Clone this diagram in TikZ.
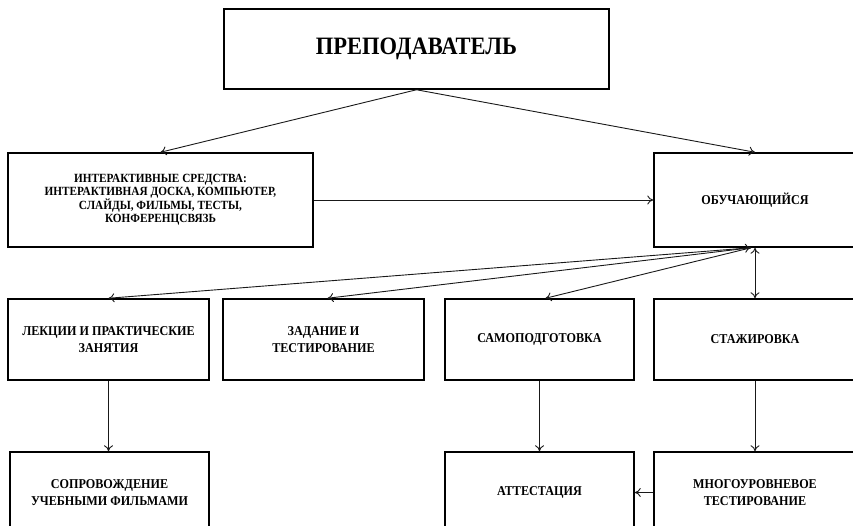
\documentclass[tikz,border=0pt]{standalone}
\usepackage{fontspec}
\setmainfont{Liberation Serif}[FakeStretch=0.9]
\usetikzlibrary{arrows.meta}

\begin{document}
\begin{tikzpicture}[x=1pt,y=-1pt,
	box/.style={draw, line width=1.5pt, inner sep=2pt, align=center, minimum height=81,
		font=\bfseries\fontsize{13.5}{16.8}\selectfont},
	arr/.style={draw=black!90, line width=0.9pt, -{To[length=6pt,width=9pt]}},
	arrboth/.style={draw=black!90, line width=0.9pt, {To[length=6pt,width=9pt]}-{To[length=6pt,width=9pt]}}]
				\useasboundingbox (0,0) rectangle (853,525);
				
				% top
				\node[box, minimum width=385, minimum height=80, font=\bfseries\fontsize{25}{29}\selectfont] (teacher) at (416.5,49) {ПРЕПОДАВАТЕЛЬ};
				
				% second level
				\node[box, minimum width=305, minimum height=94, font=\bfseries\fontsize{12.5}{12.7}\selectfont] (tools) at (160.5,200)
					{ИНТЕРАКТИВНЫЕ СРЕДСТВА:\\ИНТЕРАКТИВНАЯ ДОСКА, КОМПЬЮТЕР,\\СЛАЙДЫ, ФИЛЬМЫ, ТЕСТЫ,\\КОНФЕРЕНЦСВЯЗЬ};
				\node[box, minimum width=202, minimum height=94] (learner) at (755,200) {ОБУЧАЮЩИЙСЯ};
				
				% forms of work
				\node[box, minimum width=201] (lect) at (108.5,339.5) {ЛЕКЦИИ И ПРАКТИЧЕСКИЕ\\ЗАНЯТИЯ};
				\node[box, minimum width=201] (task) at (323.5,339.5) {ЗАДАНИЕ И\\ТЕСТИРОВАНИЕ};
				\node[box, minimum width=189] (self) at (539.5,339.5) {САМОПОДГОТОВКА};
				\node[box, minimum width=202] (intern) at (755,339.5) {СТАЖИРОВКА};
				
				% bottom
				\node[box, minimum width=199] (film) at (109.5,492.5) {СОПРОВОЖДЕНИЕ\\УЧЕБНЫМИ ФИЛЬМАМИ};
				\node[box, minimum width=189] (attest) at (539.5,492.5) {АТТЕСТАЦИЯ};
				\node[box, minimum width=202] (multi) at (755,492.5) {МНОГОУРОВНЕВОЕ\\ТЕСТИРОВАНИЕ};
				
				\coordinate (hub) at ([xshift=-4pt]learner.south);
				
				\draw[arr] (teacher.south) -- (tools.north);
				\draw[arr] (teacher.south) -- (learner.north);
				\draw[arr] (tools) -- (learner);
				
				\draw[arrboth] (hub) -- (lect.north);
				\draw[arr] (hub) -- ([xshift=4pt]task.north);
				\draw[arr] (hub) -- ([xshift=6pt]self.north);
				\draw[arrboth] (learner.south) -- (intern.north);
				
				\draw[arr] (lect.south) -- (lect.south |- film.north);
				\draw[arr] (self.south) -- (attest.north);
				\draw[arr] (intern.south) -- (multi.north);
				\draw[arr] (multi) -- (attest);
			\end{tikzpicture}
\end{document}
